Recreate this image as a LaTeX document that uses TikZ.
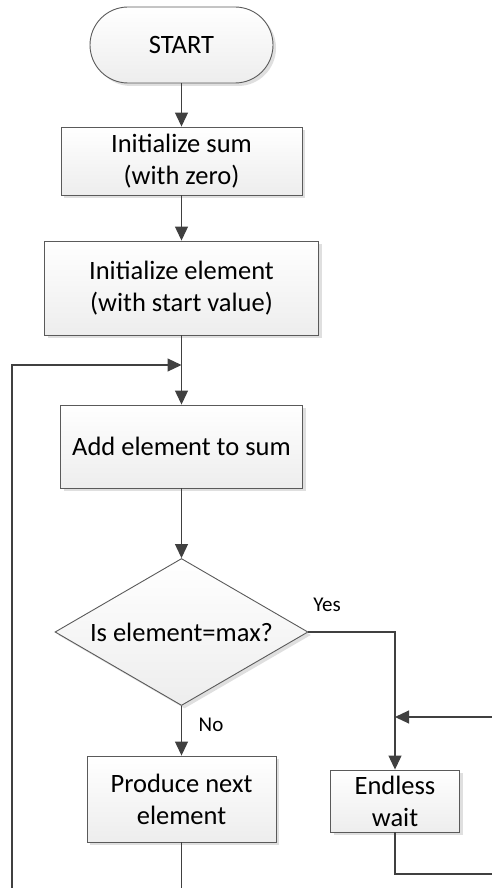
\documentclass[tikz,border=0pt]{standalone}
\usepackage{fontspec}
\setmainfont{Carlito}
\usetikzlibrary{arrows.meta,shapes.geometric,shadows}

\definecolor{lineGray}{HTML}{404040}
\definecolor{edgeGray}{HTML}{5A5A5A}

\begin{document}
\begin{tikzpicture}[
    x=1pt, y=-1pt,
    every node/.style={font=\fontsize{26.5}{32}\selectfont, align=center, text=black},
    >={Triangle[length=14pt,width=13pt]},
    box/.style={draw=edgeGray, line width=0.9pt, inner sep=0pt,
        top color=white, bottom color=gray!14,
        drop shadow={shadow xshift=3pt, shadow yshift=-3pt, fill=gray!25, opacity=1}},
    flow/.style={draw=lineGray, line width=1.1pt},
    answer/.style={font=\fontsize{21}{25}\selectfont},
]

\useasboundingbox (0,0) rectangle (492,888);

% === Main column ===
\node[box, rounded corners=38pt, minimum width=183pt, minimum height=76pt]
    (start) at (181.5,45) {START};
\node[box, minimum width=241pt, minimum height=68pt]
    (initsum) at (181.5,161) {Initialize sum\\(with zero)};
\node[box, minimum width=274pt, minimum height=94pt]
    (initelem) at (181.5,288) {Initialize element\\(with start value)};
\node[box, minimum width=242pt, minimum height=83pt]
    (add) at (181.5,446.5) {Add element to sum};
\node[box, diamond, aspect=1.72, minimum width=253pt, minimum height=147pt]
    (check) at (181.5,632) {Is element=max?};
\node[box, minimum width=189pt, minimum height=86pt]
    (produce) at (181.5,799) {Produce next\\element};

% === Right branch ===
\node[box, minimum width=129pt, minimum height=62pt]
    (wait) at (395,801) {Endless\\wait};

% Answer labels
\node[answer] (yeslbl) at (327,605) {Yes};
\node[answer] (nolbl) at (211,725) {No};

% === Connectors ===
\draw[flow, ->] (start) -- (initsum);
\draw[flow, ->] (initsum) -- (initelem);
\draw[flow, ->] (initelem) -- (add);
\draw[flow, ->] (add) -- (check);
\draw[flow, ->] (check) -- (produce);
\draw[flow, ->] (check.east) -| (wait.north);

% Loop back (runs past the bottom edge)
\coordinate (backdown) at (181.5,900);
\coordinate (backleft) at (12,900);
\coordinate (join) at (181.5,365);
\draw[flow, ->] (produce.south) -- (backdown) -| (backleft |- join) -- (join);

% Endless wait loop (runs past the right edge)
\coordinate (waitout) at (500,874);
\coordinate (waitin) at (500,717);
\coordinate (merge) at (wait.north |- waitin);
\draw[flow] (wait.south) |- (waitout);
\draw[flow, ->] (waitin) -- (merge);

\end{tikzpicture}
\end{document}
